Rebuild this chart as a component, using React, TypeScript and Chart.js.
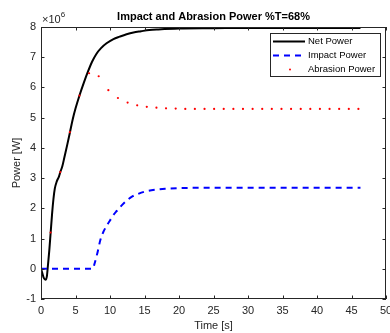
import React, { useEffect, useRef } from "react";
import { Chart, registerables } from "chart.js";
Chart.register(...registerables);

const TITLE = "Impact and Abrasion Power %T=68%";
const X_LABEL = "Time [s]";
const Y_LABEL = "Power [W]";
const Y_EXPONENT = "6";
const SERIES_NAMES = ["Net Power", "Impact Power", "Abrasion Power"];

// values in units of 10^6 W
const netT = [0, 0.2, 0.4, 0.65, 0.85, 1.0, 1.2, 1.4, 1.6, 1.8, 2.0, 2.3, 2.6, 2.8, 3.1, 3.4, 3.8, 4.2, 4.6, 5.0, 5.6, 6.2, 6.8, 7.4, 8.0, 8.7, 9.5, 10.5, 11.4, 12.4, 13.4, 14.5, 15.7, 17, 20, 25, 30, 46.3];
const netP = [0, -0.15, -0.3, -0.36, -0.25, 0.1, 0.6, 1.2, 1.8, 2.3, 2.65, 2.9, 3.05, 3.2, 3.4, 3.7, 4.1, 4.52, 4.95, 5.3, 5.75, 6.15, 6.52, 6.85, 7.1, 7.3, 7.46, 7.6, 7.68, 7.76, 7.82, 7.86, 7.9, 7.92, 7.95, 7.96, 7.97, 7.97];

const impactT = [0, 7.5, 7.8, 8.2, 8.6, 9.0, 9.5, 10, 10.5, 11, 11.5, 12, 12.6, 13.3, 14, 15, 16, 17, 18, 20, 25, 46.3];
const impactP = [0, 0, 0.2, 0.55, 0.95, 1.2, 1.42, 1.6, 1.78, 1.92, 2.05, 2.17, 2.29, 2.4, 2.47, 2.55, 2.6, 2.63, 2.65, 2.67, 2.68, 2.68];

const abrasionT = [0, 1.39, 2.79, 4.18, 5.58, 6.97, 8.36, 9.76, 11.15, 12.55, 13.94, 15.33, 16.73, 18.12, 19.52, 20.91, 22.3, 23.7, 25.09, 26.48, 27.88, 29.27, 30.67, 32.06, 33.45, 34.85, 36.24, 37.64, 39.03, 40.42, 41.82, 43.21, 44.61, 46.0];
const abrasionP = [0, 1.2, 3.2, 4.52, 5.73, 6.47, 6.37, 5.91, 5.65, 5.5, 5.41, 5.36, 5.33, 5.31, 5.3, 5.29, 5.29, 5.29, 5.29, 5.29, 5.29, 5.29, 5.29, 5.29, 5.29, 5.29, 5.29, 5.29, 5.29, 5.29, 5.29, 5.29, 5.29, 5.29];

const X_MIN = 0, X_MAX = 50, X_STEP = 5;
const Y_MIN = -1, Y_MAX = 8, Y_STEP = 1;

const toXY = (xs: number[], ys: number[]) => xs.map((x, i) => ({ x, y: ys[i] }));

const AX = "#262626";
const FONT = "'Liberation Sans', Arial, Helvetica, sans-serif";

const matlabPlugin = {
  id: "matlabAxes",
  afterDraw(chart: any) {
    const { ctx, chartArea: a, scales } = chart;
    const xs = scales.x, ys = scales.y;
    ctx.save();
    ctx.strokeStyle = AX;
    ctx.lineWidth = 1;
    ctx.strokeRect(Math.round(a.left) + 0.5, Math.round(a.top) + 0.5, Math.round(a.right - a.left) - 1, Math.round(a.bottom - a.top) - 1);
    const tl = 3.5;
    ctx.beginPath();
    xs.ticks.forEach((t: any) => {
      const px = Math.round(xs.getPixelForValue(t.value)) + 0.5;
      ctx.moveTo(px, a.bottom); ctx.lineTo(px, a.bottom - tl);
      ctx.moveTo(px, a.top); ctx.lineTo(px, a.top + tl);
    });
    ys.ticks.forEach((t: any) => {
      const py = Math.round(ys.getPixelForValue(t.value)) + 0.5;
      ctx.moveTo(a.left, py); ctx.lineTo(a.left + tl, py);
      ctx.moveTo(a.right, py); ctx.lineTo(a.right - tl, py);
    });
    ctx.stroke();

    // title
    ctx.fillStyle = "#000";
    ctx.font = `bold 11px ${FONT}`;
    ctx.textAlign = "center";
    ctx.textBaseline = "alphabetic";
    ctx.fillText(TITLE, (a.left + a.right) / 2, 20);

    // axis labels
    ctx.fillStyle = AX;
    ctx.font = `11px ${FONT}`;
    ctx.fillText(X_LABEL, (a.left + a.right) / 2, 329);
    ctx.save();
    ctx.translate(20, (a.top + a.bottom) / 2);
    ctx.rotate(-Math.PI / 2);
    ctx.fillText(Y_LABEL, 0, 0);
    ctx.restore();

    // exponent
    ctx.textAlign = "left";
    ctx.font = `11px ${FONT}`;
    ctx.fillText("\u00d710", a.left + 1, 23);
    const w = ctx.measureText("\u00d710").width;
    ctx.font = `8px ${FONT}`;
    ctx.fillText(Y_EXPONENT, a.left + 1 + w, 17);

    // legend
    const lx = 270.5, ly = 33.5, lw = 110, lh = 43;
    ctx.fillStyle = "#fff";
    ctx.fillRect(lx, ly, lw, lh);
    ctx.strokeStyle = AX;
    ctx.lineWidth = 1;
    ctx.strokeRect(lx, ly, lw, lh);
    const rows = [41.5, 55.5, 69.5];
    chart.data.datasets.forEach((ds: any, i: number) => {
      const y = rows[i];
      ctx.save();
      if (ds.showLine === false) {
        ctx.fillStyle = ds.pointBackgroundColor;
        ctx.beginPath();
        ctx.arc(290, y, 1, 0, Math.PI * 2);
        ctx.fill();
      } else {
        ctx.strokeStyle = ds.borderColor;
        ctx.lineWidth = ds.borderWidth;
        ctx.setLineDash(ds.borderDash || []);
        ctx.beginPath();
        ctx.moveTo(273, y);
        ctx.lineTo(305, y);
        ctx.stroke();
      }
      ctx.restore();
      ctx.fillStyle = "#000";
      ctx.font = `9.5px ${FONT}`;
      ctx.textAlign = "left";
      ctx.textBaseline = "middle";
      ctx.fillText(ds.label, 308, y);
    });
    ctx.restore();
  },
};

export default function App() {
  const ref = useRef<HTMLCanvasElement | null>(null);
  useEffect(() => {
    if (!ref.current) return;
    const chart = new Chart(ref.current, {
      type: "line",
      data: {
        datasets: [
          {
            label: SERIES_NAMES[0],
            data: toXY(netT, netP),
            borderColor: "#000000",
            borderWidth: 2,
            pointRadius: 0,
            cubicInterpolationMode: "monotone",
            order: 2,
          },
          {
            label: SERIES_NAMES[1],
            data: toXY(impactT, impactP),
            borderColor: "#0000ff",
            borderWidth: 2,
            borderDash: [6, 5],
            pointRadius: 0,
            cubicInterpolationMode: "monotone",
            order: 1,
          },
          {
            label: SERIES_NAMES[2],
            data: toXY(abrasionT, abrasionP),
            showLine: false,
            pointRadius: 1.1,
            pointBackgroundColor: "#ff0000",
            pointBorderWidth: 0,
            borderColor: "#ff0000",
            order: 0,
          },
        ] as any,
      },
      options: {
        animation: false,
        responsive: true,
        maintainAspectRatio: false,
        layout: { padding: { left: 0, top: 27, right: 3, bottom: 0 } },
        plugins: { legend: { display: false }, tooltip: { enabled: false }, title: { display: false } },
        scales: {
          x: {
            type: "linear",
            min: X_MIN,
            max: X_MAX,
            grid: { display: false, drawTicks: false },
            border: { display: false },
            ticks: { stepSize: X_STEP, color: AX, font: { size: 11, family: FONT }, padding: 5, maxRotation: 0 },
            afterFit: (s: any) => { s.height = 34; s.paddingLeft = 0; s.paddingRight = 0; },
          },
          y: {
            type: "linear",
            min: Y_MIN,
            max: Y_MAX,
            grid: { display: false, drawTicks: false },
            border: { display: false },
            ticks: { stepSize: Y_STEP, color: AX, font: { size: 11, family: FONT }, padding: 5 },
            afterFit: (s: any) => { s.width = 41; s.paddingTop = 0; s.paddingBottom = 0; },
          },
        },
      } as any,
      plugins: [matlabPlugin],
    });
    return () => chart.destroy();
  }, []);
  return (
    <div style={{ position: "fixed", left: 0, top: 0, width: 390, height: 333, background: "#fff" }}>
      <canvas ref={ref} />
    </div>
  );
}
